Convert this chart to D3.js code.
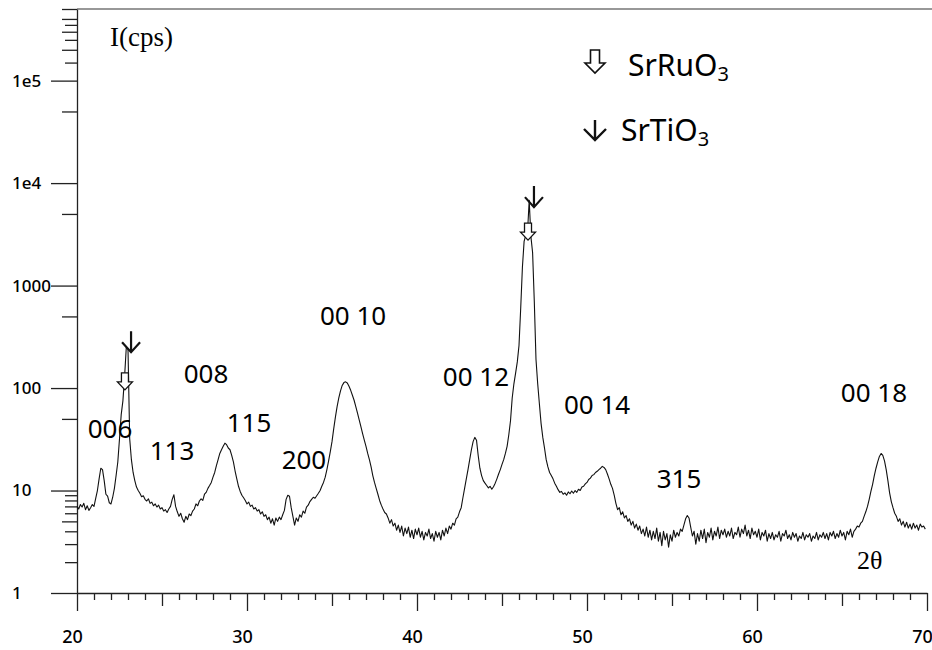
<!DOCTYPE html>
<html>
<head>
<meta charset="utf-8">
<script src="https://cdn.jsdelivr.net/npm/d3@7"></script>
<style>
body { margin: 0; background: #fff; }
</style>
</head>
<body>
<script>
var w = 932;
var h = 650;

// scan: 2theta from 20 deg, one reading every 0.1 deg
var angleStart = 20;
var angleStep = 0.1;
var counts = [
    7.0, 6.6, 7.3, 6.9, 7.5, 6.5, 7.1, 6.4, 6.8, 7.3,
    7.0, 8.4, 10, 13, 16.5, 16, 12.5, 9.2, 8.8, 7.6,
    7.4, 8.6, 10.5, 14, 19, 32, 55, 75, 130, 250,
    240, 32, 20, 15, 12.5, 10.8, 10, 9.4, 8.7, 8.9,
    8.2, 7.9, 8.3, 7.5, 7.7, 7.1, 7.4, 6.9, 7.2, 6.6,
    6.8, 6.3, 6.5, 6.1, 6.6, 7.0, 8.2, 9.1, 7.0, 6.2,
    5.6, 6.0, 5.3, 4.9, 5.6, 5.2, 5.9, 5.7, 6.3, 6.6,
    7.4, 7.1, 7.9, 8.3, 8.0, 9.2, 9.6, 10.5, 11.2, 12.0,
    13.5, 15.0, 17.5, 20, 23, 25, 27, 29, 28, 26,
    25, 22, 19, 15.5, 13, 11, 9.8, 9.0, 8.5, 8.0,
    7.4, 7.7, 7.0, 7.2, 6.6, 6.8, 6.3, 6.5, 5.9, 6.2,
    5.6, 5.8, 5.2, 5.5, 4.8, 5.3, 4.6, 5.4, 5.0, 5.5,
    5.2, 5.8, 6.4, 8.2, 9.0, 8.8, 6.8, 5.6, 4.6, 5.4,
    5.0, 5.8, 5.5, 6.3, 6.0, 6.9, 7.2, 7.8, 8.2, 8.6,
    8.4, 8.9, 9.4, 10.0, 11, 12, 13.5, 16, 19.5, 24,
    30, 40, 52, 66, 80, 94, 106, 113, 115, 112,
    104, 95, 85, 76, 66, 57, 49, 42, 36, 31,
    27, 23, 20, 17, 14, 12, 10.5, 9.2, 8.0, 7.2,
    6.6, 6.1, 5.9, 5.4, 4.8, 5.2, 4.5, 4.8, 4.1, 4.6,
    3.9, 4.5, 3.6, 4.3, 3.8, 4.4, 3.5, 4.1, 3.4, 4.2,
    3.7, 4.3, 3.5, 4.0, 3.3, 3.9, 3.6, 4.2, 3.4, 3.8,
    3.2, 4.0, 3.5, 3.9, 3.3, 4.1, 3.6, 4.3, 3.8, 4.5,
    4.2, 4.8, 4.6, 5.3, 5.5, 6.2, 6.8, 8.5, 10.5, 13,
    16, 20, 25, 30, 33, 31, 22, 16.5, 14, 12.5,
    11.8, 11.2, 10.6, 11.0, 10.3, 10.9, 11.8, 13, 14.5, 16,
    18, 20, 23, 27, 35, 48, 80, 110, 140, 180,
    260, 600, 1500, 2700, 3100, 3300, 6800, 3000, 2100, 700,
    190, 110, 70, 45, 33, 26, 20, 17, 15, 14,
    13, 11.8, 11, 10.2, 9.6, 9.8, 9.2, 9.5, 9.0, 9.7,
    9.3, 9.9, 9.4, 10.0, 9.6, 10.3, 10.0, 10.8, 11.0, 11.6,
    12.0, 12.8, 13.2, 14.0, 14.3, 15.0, 15.4, 16.0, 16.5, 17.2,
    16.8, 16.0, 14.5, 13, 11.5, 10.5, 9.0, 7.5, 6.5, 6.8,
    5.8, 6.2, 5.4, 5.7, 5.0, 5.3, 4.6, 5.0, 4.3, 4.7,
    4.1, 4.5, 3.8, 4.2, 3.6, 4.4, 3.5, 4.1, 3.3, 4.0,
    3.4, 4.3, 3.2, 3.9, 2.9, 4.0, 3.3, 3.8, 2.8, 3.7,
    3.2, 4.1, 3.5, 3.9, 3.6, 4.2, 4.0, 4.6, 5.3, 5.7,
    5.4, 4.4, 3.6, 4.0, 3.0, 3.8, 3.2, 4.1, 3.4, 4.2,
    3.1, 3.9, 3.5, 4.3, 3.3, 4.0, 3.6, 4.4, 3.4, 4.1,
    3.7, 4.2, 3.5, 4.0, 3.6, 4.3, 3.4, 3.9, 3.7, 4.4,
    3.5, 4.2, 3.8, 4.6, 3.6, 4.1, 3.4, 4.3, 3.7, 4.0,
    3.5, 4.2, 3.3, 3.9, 3.6, 4.1, 3.2, 3.8, 3.4, 3.9,
    3.3, 3.7, 3.5, 4.0, 3.2, 3.8, 3.6, 4.1, 3.4, 3.7,
    3.3, 3.9, 3.5, 3.8, 3.2, 3.6, 3.4, 3.9, 3.3, 3.7,
    3.5, 3.8, 3.2, 3.6, 3.4, 3.9, 3.3, 3.7, 3.5, 3.9,
    3.4, 3.8, 3.3, 3.9, 3.6, 4.0, 3.4, 3.8, 3.5, 4.1,
    3.6, 3.9, 3.3, 4.0, 3.7, 4.2, 3.5, 4.0, 4.2, 4.5,
    4.4, 4.8, 5.0, 5.6, 6.2, 7.0, 8.2, 9.8, 11.5, 14,
    16.5, 19, 21.5, 23, 22, 19.5, 16, 12.5, 9.5, 7.8,
    6.8, 6.0, 5.6, 5.0, 5.3, 4.6, 5.0, 4.4, 4.9, 4.3,
    4.7, 4.2, 4.8, 4.3, 4.6, 4.1, 4.7, 4.4, 4.5, 4.2
];

// reflection labels, placed at (2theta, counts) of the label centre/baseline
var peakLabels = ["006", "113", "008", "115", "200", "00 10", "00 12", "00 14", "315", "00 18"];
var peakLabelAngle = [21.94, 25.59, 27.59, 30.12, 33.35, 36.24, 43.47, 50.59, 55.41, 66.88];
var peakLabelCounts = [32.5, 19.9, 112, 37.2, 16.2, 412, 105, 55.7, 10.6, 73];

// arrow tips
var ruArrowAngle = [22.82, 46.53];
var ruArrowCounts = [96, 2780];
var tiArrowAngle = [23.18, 46.88];
var tiArrowCounts = [224, 5830];

var yMajor = [1, 10, 100, 1000, 1e4, 1e5];
var yMajorLabels = ["1", "10", "100", "1000", "1e4", "1e5"];
var yMid = [5, 50, 500, 5000, 50000, 200000, 300000, 400000, 500000];
var ySmall = [2, 3, 4, 6, 7, 8, 9, 150000, 250000, 350000];
var xMajor = [20, 30, 40, 50, 60, 70];
var xHalf = [25, 35, 45, 55, 65];
var xMinor = [21, 22, 23, 24, 26, 27, 28, 29, 31, 32, 33, 34, 36, 37, 38, 39,
    41, 42, 43, 44, 46, 47, 48, 49, 51, 52, 53, 54, 56, 57, 58, 59,
    61, 62, 63, 64, 66, 67, 68, 69];

var svg = d3.select("body")
    .append("svg")
    .attr("width", w)
    .attr("height", h);

var xScale = d3.scaleLinear().domain([20, 70]).range([77, 927]);
var yScale = d3.scaleLog().domain([1, 5e5]).range([593, 9]);

var labelFont = "'Noto Sans', 'DejaVu Sans', sans-serif";

// top frame line
svg.append("line")
    .attr("x1", xScale(20)).attr("x2", w)
    .attr("y1", yScale(5e5)).attr("y2", yScale(5e5))
    .attr("stroke", "#333").attr("stroke-width", 1.2);

// y axis
var yAxisG = svg.append("g")
    .attr("transform", "translate(" + xScale(20) + ",0)")
    .call(d3.axisLeft(yScale).tickValues(yMajor).tickSize(26).tickSizeOuter(0)
        .tickFormat((d, i) => yMajorLabels[i]));
yAxisG.selectAll("text")
    .attr("x", -65)
    .attr("text-anchor", "start")
    .attr("font-family", labelFont)
    .attr("font-size", "17px")
    .attr("font-weight", 500)
    .attr("fill", "#000");

svg.append("g")
    .attr("transform", "translate(" + xScale(20) + ",0)")
    .call(d3.axisLeft(yScale).tickValues(yMid).tickSize(15).tickFormat(""))
    .call(g => g.select(".domain").remove());
svg.append("g")
    .attr("transform", "translate(" + xScale(20) + ",0)")
    .call(d3.axisLeft(yScale).tickValues(ySmall).tickSize(12).tickFormat(""))
    .call(g => g.select(".domain").remove());

// x axis
var xAxisG = svg.append("g")
    .attr("transform", "translate(0," + yScale(1) + ")")
    .call(d3.axisBottom(xScale).tickValues(xMajor).tickSize(18).tickSizeOuter(0)
        .tickPadding(19).tickFormat(d3.format("d")));
xAxisG.selectAll("text")
    .attr("dx", -5)
    .attr("font-family", labelFont)
    .attr("font-size", "18px")
    .attr("font-weight", 500)
    .attr("fill", "#000");

svg.append("g")
    .attr("transform", "translate(0," + yScale(1) + ")")
    .call(d3.axisBottom(xScale).tickValues(xHalf).tickSize(13).tickFormat(""))
    .call(g => g.select(".domain").remove());
svg.append("g")
    .attr("transform", "translate(0," + yScale(1) + ")")
    .call(d3.axisBottom(xScale).tickValues(xMinor).tickSize(7).tickFormat(""))
    .call(g => g.select(".domain").remove());

svg.selectAll(".domain, .tick line")
    .attr("stroke", "#222")
    .attr("stroke-width", 1.3);

// the scan
var scanLine = d3.line()
    .x((d, i) => xScale(angleStart + i * angleStep))
    .y(d => yScale(d));

svg.append("path")
    .datum(counts)
    .attr("d", scanLine)
    .attr("fill", "none")
    .attr("stroke", "#111")
    .attr("stroke-width", 1.1)
    .attr("stroke-linejoin", "round");

// peak labels
svg.selectAll("text.peak")
    .data(peakLabels)
    .join("text")
    .attr("class", "peak")
    .attr("x", (d, i) => xScale(peakLabelAngle[i]))
    .attr("y", (d, i) => yScale(peakLabelCounts[i]))
    .attr("text-anchor", "middle")
    .attr("font-family", labelFont)
    .attr("font-size", "26px")
    .attr("fill", "#000")
    .text(d => d);

function hollowArrow(a, H, hh, b) {
    return "M" + (-a) + "," + (-H) + "L" + a + "," + (-H) + "L" + a + "," + (-hh) +
        "L" + b + "," + (-hh) + "L0,0L" + (-b) + "," + (-hh) + "L" + (-a) + "," + (-hh) + "Z";
}
function stickArrow(L, b, hb) {
    return "M0," + (-L) + "L0,0M" + (-b) + "," + (-hb) + "L0,0L" + b + "," + (-hb);
}

svg.selectAll("path.ru")
    .data(ruArrowAngle)
    .join("path")
    .attr("class", "ru")
    .attr("transform", (d, i) => "translate(" + xScale(d) + "," + yScale(ruArrowCounts[i]) + ")")
    .attr("d", hollowArrow(3.5, 17, 8, 7.5))
    .attr("fill", "#fff")
    .attr("stroke", "#111")
    .attr("stroke-width", 1.3);

svg.selectAll("path.ti")
    .data(tiArrowAngle)
    .join("path")
    .attr("class", "ti")
    .attr("transform", (d, i) => "translate(" + xScale(d) + "," + yScale(tiArrowCounts[i]) + ")")
    .attr("d", stickArrow(21, 9, 10))
    .attr("fill", "none")
    .attr("stroke", "#111")
    .attr("stroke-width", 2.2);

// legend
var legend = svg.append("g");
legend.append("path")
    .attr("transform", "translate(595,73)")
    .attr("d", hollowArrow(4.5, 23, 10, 10))
    .attr("fill", "#fff")
    .attr("stroke", "#111")
    .attr("stroke-width", 1.6);
legend.append("path")
    .attr("transform", "translate(595,140)")
    .attr("d", stickArrow(20, 11, 11))
    .attr("fill", "none")
    .attr("stroke", "#111")
    .attr("stroke-width", 2.4);

var legendNames = [["SrRuO", "3", 628, 76], ["SrTiO", "3", 621, 141]];
legendNames.forEach(function (n) {
    var t = legend.append("text")
        .attr("x", n[2]).attr("y", n[3])
        .attr("font-family", labelFont)
        .attr("font-size", "30px")
        .attr("fill", "#000");
    t.append("tspan").text(n[0]);
    t.append("tspan").attr("dy", 5).attr("font-size", "20px").text(n[1]);
});

svg.append("text")
    .attr("x", 110).attr("y", 46)
    .attr("font-family", "'Liberation Serif', 'DejaVu Serif', serif")
    .attr("font-size", "27px")
    .attr("fill", "#000")
    .text("I(cps)");

svg.append("text")
    .attr("x", 857).attr("y", 569)
    .attr("font-family", "'Liberation Serif', 'DejaVu Serif', serif")
    .attr("font-size", "26px")
    .attr("fill", "#000")
    .text("2θ");
</script>
</body>
</html>
